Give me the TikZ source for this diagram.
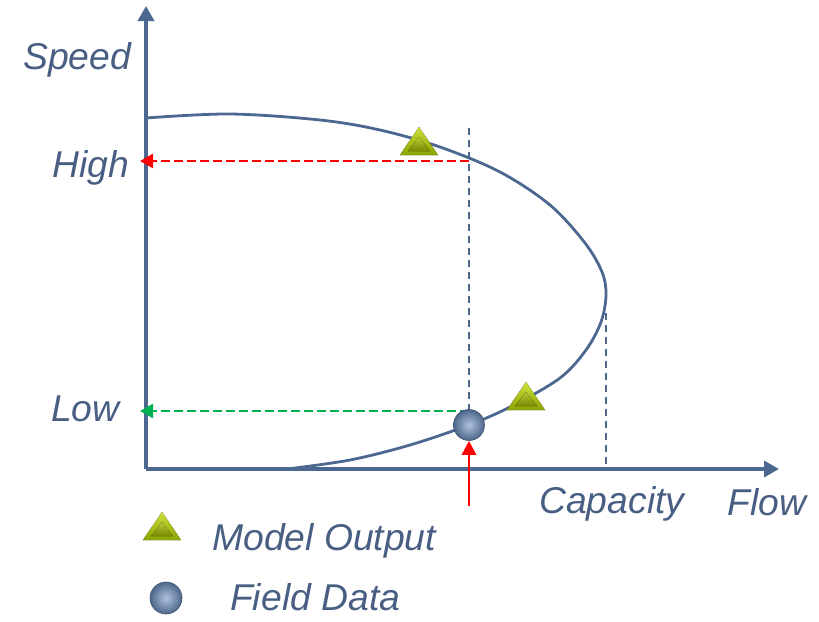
\documentclass[tikz,border=0pt]{standalone}
\usepackage{fontspec}
\setmainfont{Liberation Sans}
\usetikzlibrary{arrows.meta, calc}

\definecolor{axisblue}{RGB}{76,104,145}
\definecolor{labelblue}{RGB}{72,94,130}
\definecolor{triangletop}{RGB}{205,225,60}
\definecolor{trianglebottom}{RGB}{140,162,0}
\definecolor{balllight}{RGB}{175,195,222}
\definecolor{balldark}{RGB}{78,102,140}
\definecolor{arrowgreen}{RGB}{0,176,80}

\tikzset{
	axis line/.style={axisblue, line width=3.5pt, -{Triangle[length=15pt,width=16pt]}},
	guide line/.style={axisblue, line width=2.2pt, dash pattern=on 7pt off 5pt},
	read arrow/.style={line width=2.6pt, dash pattern=on 9pt off 4pt, -{Triangle[length=13pt,width=14pt]}},
	label text/.style={text=labelblue, font=\fontsize{37.3}{44}\selectfont\itshape, inner sep=0pt, anchor=base west},
	field/.style={circle, minimum size=31pt, inner sep=0pt, inner color=balllight, outer color=balldark, draw=balldark!80!black, line width=0.6pt},
	modeltri/.pic={
		\fill[top color=triangletop, bottom color=trianglebottom] (-19,14) -- (0,-14) -- (19,14) -- cycle;
		\fill[top color=triangletop!90!black, bottom color=trianglebottom!85!black] (-11,10) -- (0,-4) -- (11,10) -- cycle;
		\coordinate (-apex) at (0,-14);
	}
}

\begin{document}
\begin{tikzpicture}[x=1pt, y=-1pt]
			\useasboundingbox (0,0) rectangle (819,621);

			\coordinate (origin) at (146,469);
			\coordinate (speed top) at (146,6);
			\coordinate (flow end) at (779,469);
			\coordinate (high) at (146,161);
			\coordinate (low) at (146,411);
			\coordinate (high cross) at (469,161);
			\coordinate (low cross) at (469,411);
			\coordinate (guide top) at (469,128);
			\coordinate (nose) at (606,295);
			\coordinate (capacity) at (606,469);
			\coordinate (field source) at (469,506);

			% speed-flow curve
			\draw[axisblue, line width=2.8pt] plot[smooth, tension=0.55] coordinates {
				(146,118) (230,114) (320,120) (380,130) (440,147) (500,172) (550,205)
				(585,243) (602,272) (606,295) (601,322) (586,350) (560,378) (512,406)
				(469,425) (410,445) (350,460) (287,469)} -- (origin);

			% guides
			\draw[guide line] (guide top) -- (469,425);
			\draw[guide line] ($ (nose) + (0,18) $) -- (capacity);

			% axes
			\draw[axis line] (origin) -- (speed top);
			\draw[axis line] (origin) -- (flow end);

			% readings
			\draw[read arrow, red] (high cross) -- ($ (high) + (-6,0) $);
			\draw[read arrow, arrowgreen] (low cross) -- ($ (low) + (-6,0) $);

			\node[field] (field point) at (469,425) {};
			\draw[red, line width=2.6pt, -{Triangle[length=14pt,width=14pt]}] (field source) -- (field point.south);

			\pic (upper model) at (419,141) {modeltri};
			\pic (lower model) at (526,396) {modeltri};

			% labels
			\node[label text] (speed label) at (23,69) {Speed};
			\node[label text] (high label) at (52,177) {High};
			\node[label text] (low label) at (51,421) {Low};
			\node[label text] (capacity label) at (539,513) {Capacity};
			\node[label text] (flow label) at (727,515) {Flow};

			% legend
			\pic (legend model) at (162,526) {modeltri};
			\node[field, minimum size=32pt] (legend field) at (166,598) {};
			\node[label text] (model label) at (212,550) {Model Output};
			\node[label text] (field label) at (230,610) {Field Data};
		\end{tikzpicture}
\end{document}
